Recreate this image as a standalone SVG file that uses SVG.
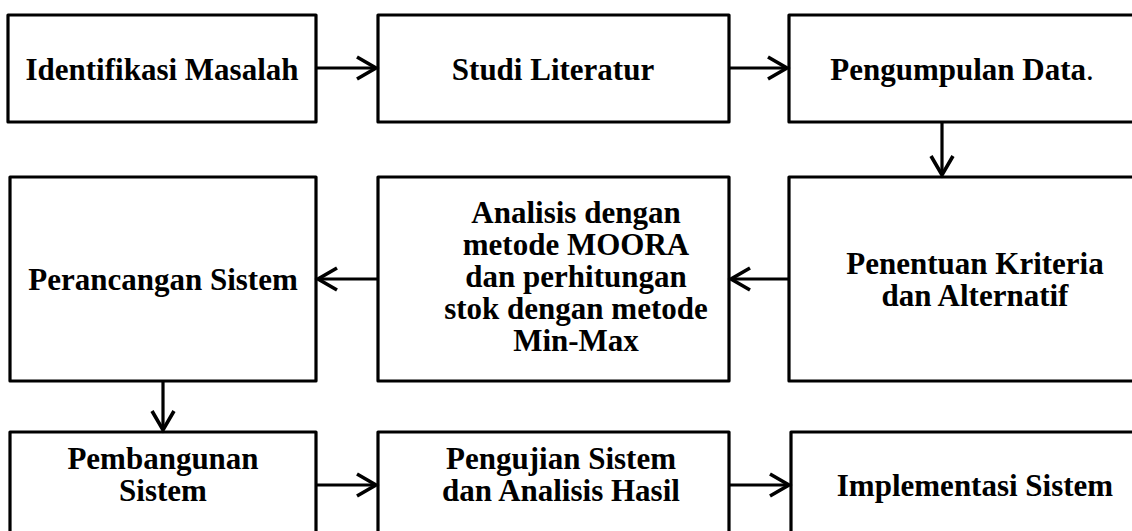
<svg xmlns="http://www.w3.org/2000/svg" width="1132" height="531" viewBox="0 0 1132 531">
<style>
.box{fill:#fff;stroke:#000;stroke-width:3.2;stroke-linejoin:round}
.t{font-family:"Liberation Serif","Times New Roman",serif;font-weight:bold;font-size:31px;fill:#000;text-anchor:middle}
.c{stroke:#000;stroke-width:3.2;fill:none}
</style>
<defs>
<marker id="ah" markerUnits="userSpaceOnUse" markerWidth="30" markerHeight="30" refX="21" refY="13" orient="auto" viewBox="0 0 30 30">
<path d="M2,2 L21,13 L2,24" fill="none" stroke="#000" stroke-width="3.6" stroke-linejoin="miter"/>
</marker>
</defs>
<rect width="1132" height="531" fill="#fff"/>
<g id="n1"><rect class="box" x="8" y="15" width="308" height="107"/><text class="t" x="162" y="80">Identifikasi Masalah</text></g>
<g id="n2"><rect class="box" x="378" y="15" width="351" height="107"/><text class="t" x="553" y="80">Studi Literatur</text></g>
<g id="n3"><rect class="box" x="789" y="15" width="360" height="107"/><text class="t" x="962" y="80">Pengumpulan Data<tspan font-weight="normal">.</tspan></text></g>
<g id="n4"><rect class="box" x="10" y="177" width="306" height="204"/><text class="t" x="163" y="290">Perancangan Sistem</text></g>
<g id="n5"><rect class="box" x="378" y="177" width="351" height="204"/><text class="t" x="576" y="223">Analisis dengan<tspan x="576" y="255">metode MOORA</tspan><tspan x="576" y="287">dan perhitungan</tspan><tspan x="576" y="319">stok dengan metode</tspan><tspan x="576" y="351">Min-Max</tspan></text></g>
<g id="n6"><rect class="box" x="789" y="177" width="360" height="204"/><text class="t" x="975" y="274">Penentuan Kriteria<tspan x="975" y="306">dan Alternatif</tspan></text></g>
<g id="n7"><rect class="box" x="10" y="432" width="306" height="110"/><text class="t" x="163" y="469">Pembangunan<tspan x="163" y="501">Sistem</tspan></text></g>
<g id="n8"><rect class="box" x="378" y="432" width="351" height="110"/><text class="t" x="561" y="469">Pengujian Sistem<tspan x="561" y="501">dan Analisis Hasil</tspan></text></g>
<g id="n9"><rect class="box" x="791" y="432" width="360" height="110"/><text class="t" x="975" y="496">Implementasi Sistem</text></g>
<g id="connectors">
<line class="c" x1="316" y1="68" x2="376" y2="68" marker-end="url(#ah)"/>
<line class="c" x1="729" y1="68" x2="787" y2="68" marker-end="url(#ah)"/>
<line class="c" x1="942" y1="122" x2="942" y2="175" marker-end="url(#ah)"/>
<line class="c" x1="789" y1="279" x2="731" y2="279" marker-end="url(#ah)"/>
<line class="c" x1="378" y1="279" x2="318" y2="279" marker-end="url(#ah)"/>
<line class="c" x1="163" y1="381" x2="163" y2="430" marker-end="url(#ah)"/>
<line class="c" x1="316" y1="485" x2="376" y2="485" marker-end="url(#ah)"/>
<line class="c" x1="729" y1="485" x2="789" y2="485" marker-end="url(#ah)"/>
</g>
</svg>
